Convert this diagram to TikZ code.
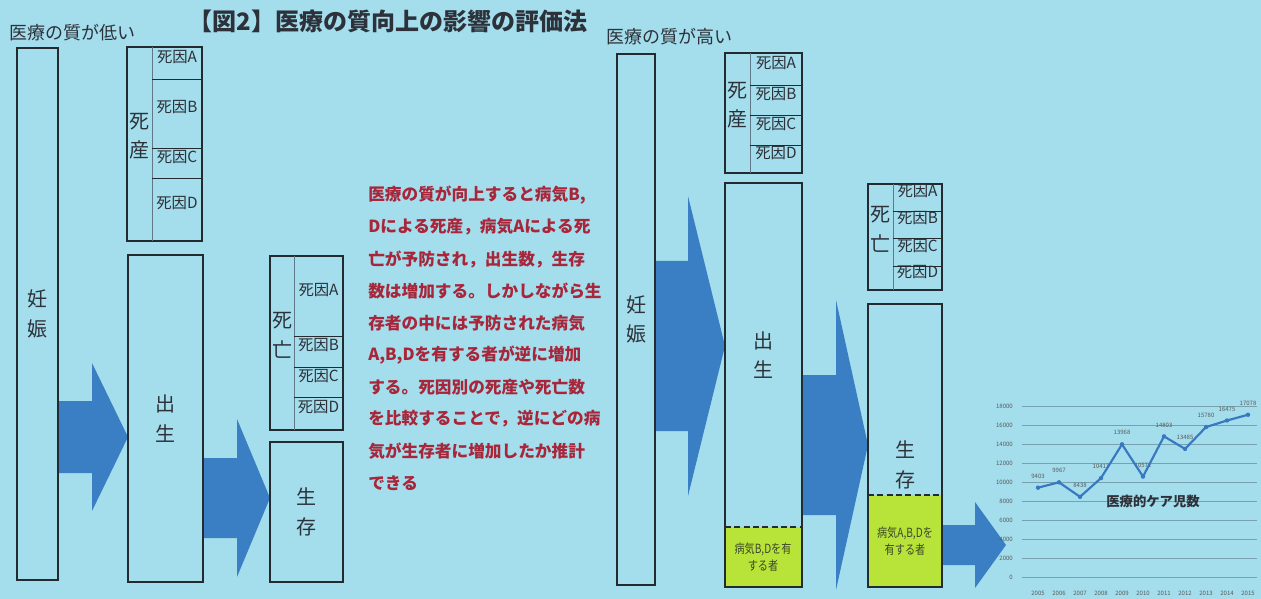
\documentclass[tikz,border=0pt]{standalone}
\usepackage{fontspec}
\setmainfont{Noto Sans CJK JP}
\newfontfamily\cjkc{Noto Sans CJK JP}[FakeStretch=0.8]
\usetikzlibrary{fit}
\definecolor{bg}{RGB}{164,221,236}
\definecolor{lineclr}{RGB}{35,42,48}
\definecolor{divclr}{RGB}{95,120,135}
\definecolor{txtclr}{RGB}{45,50,58}
\definecolor{arrowclr}{RGB}{58,126,196}
\definecolor{redtxt}{RGB}{168,38,58}
\definecolor{lime}{RGB}{184,228,58}
\definecolor{gridclr}{RGB}{120,160,175}
\definecolor{dataclr}{RGB}{55,120,190}
\newcommand\blockarrow[6]{\fill[arrowclr] (#1,{#4-#5}) -- (#2,{#4-#5}) -- (#2,{#4-#6}) -- (#3,#4) -- (#2,{#4+#6}) -- (#2,{#4+#5}) -- (#1,{#4+#5}) -- cycle;}
\begin{document}
\begin{tikzpicture}[x=0.75pt,y=-0.75pt,
  box/.style={draw=lineclr, line width=1.3pt, inner sep=0pt},
  cell/.style={inner sep=0pt, font=\fontsize{11.5}{12}\selectfont, text=txtclr},
  vt/.style={inner sep=0pt, align=center, font=\fontsize{15}{22}\selectfont, text=txtclr},
  rowline/.style={draw=lineclr, line width=1pt},
  divline/.style={draw=divclr, line width=0.9pt},
  dashline/.style={draw=lineclr, line width=1.3pt, dash pattern=on 4.5pt off 2.5pt},
  greentxt/.style={align=center, font=\cjkc\fontsize{9.5}{13}\selectfont, text={rgb,255:red,60;green,72;blue,40}},
  redline/.style={anchor=west, inner sep=0pt, font=\bfseries\fontsize{12.5}{14}\selectfont, text=redtxt},
  head/.style={anchor=west, inner sep=0pt, font=\fontsize{13.5}{15}\selectfont, text=txtclr},
  grid/.style={draw=gridclr, line width=0.5pt},
  tiny/.style={inner sep=0pt, font=\fontsize{4.5}{5}\selectfont, text=gray!70!black},
]
\fill[bg] (0,0) rectangle (1261,599);
\useasboundingbox (0,0) rectangle (1261,599);

% title and headings
\node[inner sep=0pt, font=\bfseries\fontsize{18}{20}\selectfont, text=txtclr] (title) at (388,21) {【図2】医療の質向上の影響の評価法};
\node[head] (lowq) at (9,33) {医療の質が低い};
\node[head] (highq) at (606,37) {医療の質が高い};

% green regions
\fill[lime] (725,527) rectangle (802,587);
\fill[lime] (868,495) rectangle (942,587);

% block arrows
\blockarrow{58}{92}{128}{437}{36}{74}
\blockarrow{203}{237}{270}{498}{40}{79}
\blockarrow{655}{688}{725}{346}{85}{150}
\blockarrow{802}{836}{868}{445}{70}{145}
\blockarrow{942}{975}{1006}{545}{20}{43}

% ---------- left side ----------
\node[box, fit={(17,48) (58,580)}] (ninL) {};
\node[vt] at (ninL.center) {妊\\娠};
\node[box, fit={(128,255) (203,582)}] (birthL) {};
\node[vt] at (birthL.center) {出\\生};
\node[box, fit={(270,442) (343,582)}] (survL) {};
\node[vt] at (survL.center) {生\\存};

% left stillbirth table
\node[box, fit={(127,47) (202,241)}] (L1) {};
\node[vt, fit={(127,47) (152,241)}] (L1col) {死\\産};
\draw[divline] (L1col.north east) -- (L1col.south east);
\foreach \ya/\yb/\l in {47/79/A,79/148/B,148/178/C,178/241/D}
  \node[cell, fit={(152,\ya) (202,\yb)}] (L1\l) {死因\l};
\foreach \l in {A,B,C} \draw[rowline] (L1\l.south west) -- (L1\l.south east);

% left death table
\node[box, fit={(270,256) (343,430)}] (L2) {};
\node[vt, fit={(270,256) (294,430)}] (L2col) {死\\亡};
\draw[divline] (L2col.north east) -- (L2col.south east);
\foreach \ya/\yb/\l in {256/336/A,336/367/B,367/397/C,397/430/D}
  \node[cell, fit={(294,\ya) (343,\yb)}] (L2\l) {死因\l};
\foreach \l in {A,B,C} \draw[rowline] (L2\l.south west) -- (L2\l.south east);

% explanation text
\foreach \t [count=\k from 0] in {{医療の質が向上すると病気B,},
  Dによる死産，病気Aによる死,
  亡が予防され，出生数，生存,
  数は増加する。しかしながら生,
  存者の中には予防された病気,
  {A,B,Dを有する者が逆に増加},
  する。死因別の死産や死亡数,
  を比較することで，逆にどの病,
  気が生存者に増加したか推計,
  できる}
  \node[redline] (red\k) at (368,{195+32*\k}) {\t};

% ---------- right side ----------
\node[box, fit={(617,54) (655,585)}] (ninR) {};
\node[vt] at (ninR.center) {妊\\娠};

\node[box, fit={(725,53) (802,173)}] (R1) {};
\node[vt, fit={(725,53) (750,173)}] (R1col) {死\\産};
\draw[divline] (R1col.north east) -- (R1col.south east);
\foreach \ya/\yb/\l in {53/85/A,85/115/B,115/145/C,145/173/D}
  \node[cell, fit={(750,\ya) (802,\yb)}] (R1\l) {死因\l};
\foreach \l in {A,B,C} \draw[rowline] (R1\l.south west) -- (R1\l.south east);

\node[box, fit={(725,183) (802,587)}] (birthR) {};
\coordinate (bRd1) at (725,527);
\coordinate (bRd2) at (802,527);
\draw[dashline] (bRd1) -- (bRd2);
\node[vt] at (763,355) {出\\生};
\node[greentxt] (bRg) at (763,557) {病気B,Dを有\\する者};

\node[box, fit={(868,184) (942,290)}] (R2) {};
\node[vt, fit={(868,184) (893,290)}] (R2col) {死\\亡};
\draw[divline] (R2col.north east) -- (R2col.south east);
\foreach \ya/\yb/\l in {184/211/A,211/238/B,238/266/C,266/290/D}
  \node[cell, fit={(893,\ya) (942,\yb)}] (R2\l) {死因\l};
\foreach \l in {A,B,C} \draw[rowline] (R2\l.south west) -- (R2\l.south east);

\node[box, fit={(868,304) (942,587)}] (survR) {};
\coordinate (sRd1) at (868,495);
\coordinate (sRd2) at (942,495);
\draw[dashline] (sRd1) -- (sRd2);
\node[vt] at (905,465) {生\\存};
\node[greentxt] (sRg) at (905,541) {病気A,B,Dを\\有する者};

% ---------- chart ----------
\foreach \v [count=\i from 0] in {0,2000,4000,6000,8000,10000,12000,14000,16000,18000} {
  \draw[grid] (1022,{577-19*\i}) -- (1257,{577-19*\i});
  \node[tiny, anchor=east] (yl\i) at (1013,{577-19*\i}) {\v};
}
\foreach \yr [count=\i from 0] in {2005,2006,...,2015}
  \node[tiny] (xl\i) at ({1038+21*\i},593) {\yr};
\foreach \v/\lab [count=\i from 0] in {9.403/9403,9.967/9967,8.438/8438,10.413/10413,13.968/13968,10.572/10572,14.803/14803,13.485/13485,15.780/15780,16.475/16475,17.078/17078} {
  \coordinate (d\i) at ({1038+21*\i},{577-\v*9.5});
  \node[tiny, anchor=south] (dl\i) at ({1038+21*\i},{577-\v*9.5-9}) {\lab};
}
\draw[dataclr, line width=1.6pt, line join=round] (d0) -- (d1) -- (d2) -- (d3) -- (d4) -- (d5) -- (d6) -- (d7) -- (d8) -- (d9) -- (d10);
\foreach \i in {0,...,10} \fill[dataclr] (d\i) circle (2.2);
\node[inner sep=0pt, font=\bfseries\fontsize{10}{12}\selectfont, text=txtclr] (ctitle) at (1153,501) {医療的ケア児数};
\end{tikzpicture}
\end{document}
